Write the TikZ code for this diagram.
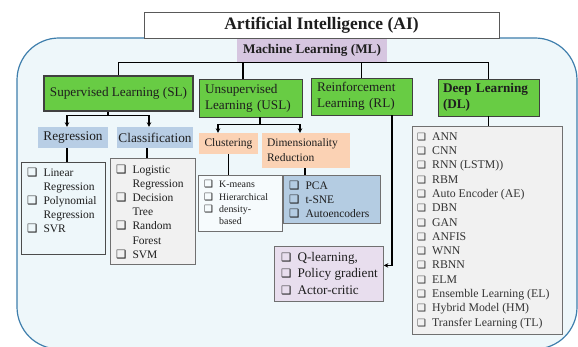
\documentclass[tikz,border=0pt]{standalone}
\usepackage{fontspec}
\setmainfont{Liberation Serif}
\newfontfamily\cbfont{DejaVu Sans}
\usetikzlibrary{arrows.meta,calc}
\definecolor{bgfill}{RGB}{238,247,250}
\definecolor{bgline}{RGB}{62,126,172}
\definecolor{grn}{RGB}{104,204,68}
\definecolor{mlfill}{RGB}{214,198,224}
\definecolor{bluelab}{RGB}{184,206,229}
\definecolor{peach}{RGB}{251,210,180}
\definecolor{drfill}{RGB}{180,204,226}
\definecolor{rlfill}{RGB}{232,222,238}
\definecolor{greyfill}{RGB}{241,241,241}
\definecolor{clfill}{RGB}{246,251,253}
\definecolor{boxline}{RGB}{112,112,112}
\definecolor{txt}{RGB}{30,30,30}
\newcommand{\cb}{{\cbfont\fontsize{11.5}{11.5}\selectfont ❑}}
\newcommand{\cbs}{{\cbfont\fontsize{10}{10}\selectfont ❑}}
\tikzset{
  conn/.style={line width=1.3pt, draw=black},
  arr/.style={conn, -{Stealth[length=4.5pt,width=4.5pt]}},
  grnbox/.style={draw=black!75, line width=0.8pt, fill=grn, inner sep=0pt, text=txt},
  lab/.style={inner sep=0pt, text=txt},
  listbox/.style={draw=boxline, line width=0.8pt, anchor=north west, inner sep=0pt},
  listtxt/.style={anchor=north west, inner sep=0pt, align=left, text=txt},
}
\begin{document}
\begin{tikzpicture}[x=1pt,y=-1pt]
\clip (0,0) rectangle (578,347);
% background
\path[draw=bgline, line width=1.2pt, fill=bgfill, rounded corners=42pt] (17,38) rectangle (577,349);
% title
\node[draw=black!65, line width=0.8pt, fill=white, minimum width=355pt, minimum height=26pt, inner sep=0pt,
      font=\bfseries\fontsize{17.5}{20}\selectfont, text=txt] (ai) at (321.5,25) {Artificial Intelligence (AI)};
\node[fill=mlfill, minimum width=150pt, minimum height=23pt, inner sep=0pt,
      font=\bfseries\fontsize{13.2}{16}\selectfont, text=txt] (ml) at (312,50.5) {Machine Learning (ML)};
% main categories
\node[grnbox, line width=1.6pt, minimum width=149pt, minimum height=35pt,
      font=\fontsize{13.2}{16}\selectfont] (sl) at (118.5,93.5) {Supervised Learning (SL)};
\node[grnbox, minimum width=103pt, minimum height=38pt, text width=91pt, align=left,
      font=\fontsize{13.2}{16}\selectfont] (usl) at (250.5,98) {Unsupervised\\Learning (USL)};
\node[grnbox, minimum width=101pt, minimum height=37pt, text width=89pt, align=left,
      font=\fontsize{13.2}{16}\selectfont] (rl) at (361.5,96.5) {Reinforcement\\Learning (RL)};
\node[grnbox, minimum width=101pt, minimum height=37pt, text width=91pt, align=left,
      font=\bfseries\fontsize{13.2}{16}\selectfont] (dl) at (488.5,97.5) {Deep Learning\\(DL)};
% sub labels
\node[lab, fill=bluelab, minimum width=70pt, minimum height=21pt, font=\fontsize{13.3}{16}\selectfont] (reg) at (73,137.5) {Regression};
\node[lab, fill=bluelab, minimum width=76pt, minimum height=21pt, font=\fontsize{13.3}{16}\selectfont] (cls) at (155,137.5) {Classification};
\node[lab, fill=peach, minimum width=59pt, minimum height=21pt, font=\fontsize{11.5}{14}\selectfont] (clu) at (228.5,143.5) {Clustering};
\node[lab, fill=peach, minimum width=88pt, minimum height=35pt, text width=78pt, align=left,
      font=\fontsize{11.5}{15}\selectfont] (dr) at (306,150.5) {Dimensionality\\Reduction};
% list boxes
\node[listbox, fill=bgfill, draw=black!70, minimum width=84pt, minimum height=92pt] (reglist) at (21,162) {};
\node[listbox, fill=greyfill, minimum width=85pt, minimum height=106pt] (clslist) at (110,158) {};
\node[listbox, fill=clfill, minimum width=84pt, minimum height=56pt] (clulist) at (198,175) {};
\node[listbox, fill=drfill, minimum width=97pt, minimum height=48pt] (drlist) at (283,175) {};
\node[listbox, fill=rlfill, minimum width=109pt, minimum height=55pt] (rllist) at (274,246) {};
\node[listbox, fill=greyfill, minimum width=150pt, minimum height=208pt] (dllist) at (412,126) {};
% list texts
\node[listtxt, font=\fontsize{11.5}{14.2}\selectfont] (regtxt) at (27,166) {%
\begin{tabular}{@{}l@{\hspace{6pt}}l@{}}
\cb & Linear\\ & Regression\\ \cb & Polynomial\\ & Regression\\ \cb & SVR
\end{tabular}};
\node[listtxt, font=\fontsize{11.5}{14.2}\selectfont] (clstxt) at (116,163) {%
\begin{tabular}{@{}l@{\hspace{6pt}}l@{}}
\cb & Logistic\\ & Regression\\ \cb & Decision\\ & Tree\\ \cb & Random\\ & Forest\\ \cb & SVM
\end{tabular}};
\node[listtxt, font=\fontsize{9.9}{12.3}\selectfont] (clutxt) at (204,179) {%
\begin{tabular}{@{}l@{\hspace{6pt}}l@{}}
\cbs & K-means\\ \cbs & Hierarchical\\ \cbs & density-\\ & based
\end{tabular}};
\node[listtxt, font=\fontsize{11.5}{14}\selectfont] (drtxt) at (289,180) {%
\begin{tabular}{@{}l@{\hspace{6pt}}l@{}}
\cb & PCA\\ \cb & t-SNE\\ \cb & Autoencoders
\end{tabular}};
\node[listtxt, font=\fontsize{13.2}{16.5}\selectfont] (rltxt) at (281,249.5) {%
\begin{tabular}{@{}l@{\hspace{6pt}}l@{}}
\cb & Q-learning,\\ \cb & Policy gradient\\ \cb & Actor-critic
\end{tabular}};
\node[listtxt, text=black!80, font=\fontsize{11.8}{14.3}\selectfont] (dltxt) at (417,130) {%
\begin{tabular}{@{}l@{\hspace{6pt}}l@{}}
\cbs & ANN\\ \cbs & CNN\\ \cbs & RNN (LSTM))\\ \cbs & RBM\\ \cbs & Auto Encoder (AE)\\
\cbs & DBN\\ \cbs & GAN\\ \cbs & ANFIS\\ \cbs & WNN\\ \cbs & RBNN\\ \cbs & ELM\\
\cbs & Ensemble Learning (EL)\\ \cbs & Hybrid Model (HM)\\ \cbs & Transfer Learning (TL)
\end{tabular}};
% anchor points for off-centre connectors
\coordinate (uslt) at ([xshift=-7.5pt]usl.north);
\coordinate (slb) at ([xshift=-10.5pt]sl.south);
\coordinate (regt) at ([xshift=-6pt]reg.north);
\coordinate (clst) at ([xshift=-6pt]cls.north);
\coordinate (regb) at ([xshift=-6pt]reg.south);
\coordinate (clsb) at ([xshift=-8pt]cls.south);
\coordinate (uslb) at ([xshift=9.5pt]usl.south);
\coordinate (clut) at ([xshift=-10.5pt]clu.north);
\coordinate (drt) at ([xshift=-6pt]dr.north);
\coordinate (drb) at ([xshift=-1pt]dr.south);
\coordinate (rlb) at ([xshift=30.5pt]rl.south);
\coordinate (rlin) at ([yshift=8.5pt]rllist.east);
% connectors from ML
\draw[conn] (sl.north) |- (ml.south) -| (dl.north);
\draw[conn] (ml.south -| rl.north) -- (rl.north);
\draw[conn] (ml.south -| uslt) -- (uslt);
% SL branch
\coordinate (slj) at ($(slb)+(0,4)$);
\draw[conn] (slb) -- (slj);
\draw[arr] (slj) -| (regt);
\draw[arr] (slj) -| (clst);
\draw[conn] (regb) -- (regb |- reglist.north);
\draw[conn] (clsb) -- (clsb |- clslist.north);
% USL branch
\coordinate (uslj) at ($(uslb)+(0,7)$);
\draw[conn] (uslb) -- (uslj);
\draw[arr] (uslj) -| (clut);
\draw[arr] (uslj) -| (drt);
\draw[conn] (clu.south) -- (clu.south |- clulist.north);
\draw[conn] (drb) -- (drb |- drlist.north);
% RL branch
\draw[arr] (rlb) |- (rlin);
% DL branch
\draw[conn] (dl.south) -- (dl.south |- dllist.north);
\end{tikzpicture}
\end{document}
